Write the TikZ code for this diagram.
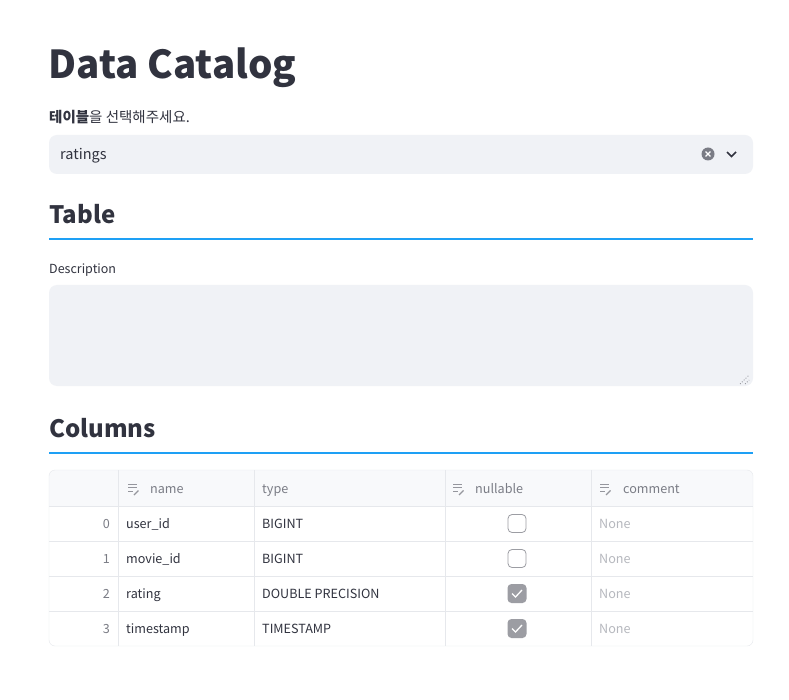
\documentclass[tikz,border=0pt]{standalone}
\usepackage{fontspec}
\setmainfont{Noto Sans CJK KR}
\usetikzlibrary{positioning}
\definecolor{inktext}{HTML}{31333F}
\definecolor{fieldbg}{HTML}{F0F2F6}
\definecolor{rulebl}{RGB}{30,160,245}
\definecolor{gridln}{HTML}{E6E8EC}
\definecolor{headbg}{HTML}{F8F9FB}
\definecolor{headtx}{HTML}{7A7C85}
\definecolor{nonetx}{HTML}{B6B8BE}
\definecolor{boxgry}{HTML}{9C9DA3}

\tikzset{
    txt/.style={inner sep=0pt, anchor=base west, text=inktext},
    cell/.style={font=\fontsize{12.6}{15}\selectfont},
    editicon/.pic={
        \draw[headtx!80, line width=1pt] (0,0) -- (9,0);
        \draw[headtx!80, line width=1pt] (0,3.5) -- (9,3.5);
        \draw[headtx!80, line width=1pt] (0,7) -- (5,7);
        \draw[headtx!80, line width=1.2pt] (6,11) -- (10.5,6.5);
    }
}

\begin{document}
\begin{tikzpicture}[x=1pt,y=-1pt]
    \useasboundingbox[fill=white] (0,0) rectangle (789,700);

    % title and select box
    \node[txt, font=\fontsize{38.5}{42}\selectfont\bfseries] (title) at (48.5,79) {Data Catalog};
    \node[txt, font=\fontsize{14.5}{17}\selectfont] (pick) at (49,123) {\textbf{테이블}을 선택해주세요.};
    \fill[fieldbg, rounded corners=8] (49,135) rectangle (753,174);
    \node[txt, font=\fontsize{14.5}{17}\selectfont] (sel) at (60,160) {ratings};
    \fill[headtx] (708,154) circle (6.5);
    \draw[white, line width=1.3pt] (705.6,151.6) -- (710.4,156.4);
    \draw[white, line width=1.3pt] (705.6,156.4) -- (710.4,151.6);
    \draw[inktext, line width=1.6pt] (727,152) -- (731.5,156.5) -- (736,152);

    % table section
    \node[txt, font=\fontsize{24}{28}\selectfont\bfseries] (tblhead) at (49,224) {Table};
    \draw[rulebl, line width=2pt] (49,239) -- (753,239);
    \node[txt, font=\fontsize{12.5}{15}\selectfont] (desc) at (49,274) {Description};
    \fill[fieldbg, rounded corners=8] (49,285) rectangle (753,386);
    \draw[inktext!80, line width=0.7pt, dotted] (740,384) -- (749,375);
    \draw[inktext!80, line width=0.7pt, dotted] (745,384) -- (749,380);

    % columns section
    \node[txt, font=\fontsize{24}{28}\selectfont\bfseries] (colhead) at (49,437) {Columns};
    \draw[rulebl, line width=2pt] (49,453) -- (753,453);

    \begin{scope}
        \clip[rounded corners=6] (49,470) rectangle (753,646);
        \fill[headbg] (49,470) rectangle (753,506);
    \end{scope}
    \foreach \x in {118,254,445,591}{
        \draw[gridln] (\x,470) -- (\x,646);
    }
    \foreach \y in {506,541,576,611}{
        \draw[gridln] (49,\y) -- (753,\y);
    }
    \draw[gridln, rounded corners=6] (49,470) rectangle (753,646);

    \pic at (128,484) {editicon};
    \pic at (453,484) {editicon};
    \pic at (600,484) {editicon};
    \node[txt, text=headtx, cell] (hname) at (150,493) {name};
    \node[txt, text=headtx, cell] (htype) at (262,493) {type};
    \node[txt, text=headtx, cell] (hnull) at (475,493) {nullable};
    \node[txt, text=headtx, cell] (hcomm) at (623,493) {comment};

    \foreach \i/\nm/\tp/\chk in {0/user\_id/BIGINT/0, 1/movie\_id/BIGINT/0, 2/rating/DOUBLE PRECISION/1, 3/timestamp/TIMESTAMP/1}{
        \pgfmathsetmacro{\yb}{528.5+35*\i}
        \pgfmathsetmacro{\yc}{523.5+35*\i}
        \node[inner sep=0pt, anchor=base east, text=headtx, cell] (idx\i) at (110,\yb) {\i};
        \node[txt, cell] (name\i) at (126,\yb) {\nm};
        \node[txt, cell] (type\i) at (262,\yb) {\tp};
        \node[txt, text=nonetx, cell] (comm\i) at (599,\yb) {None};
        \ifnum\chk=1
            \fill[boxgry, rounded corners=4] (507.5,\yc-9.5) rectangle (526.5,\yc+9.5);
            \draw[white, line width=1.3pt] (512,\yc) -- (515.5,\yc+3.5) -- (522,\yc-3.5);
        \else
            \draw[boxgry, fill=white, line width=0.8pt, rounded corners=4] (508,\yc-9) rectangle (526,\yc+9);
        \fi
    }
\end{tikzpicture}
\end{document}
